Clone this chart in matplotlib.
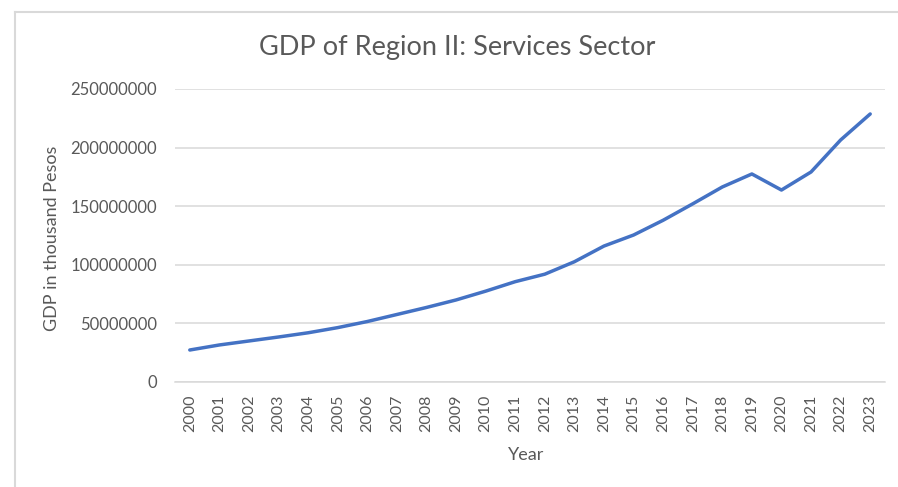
import matplotlib
matplotlib.use("Agg")
import matplotlib.pyplot as plt
from matplotlib.lines import Line2D

# Gross domestic product of the services sector, Region II (thousand pesos)
years = [str(y) for y in range(2000, 2024)]
gdp_services = [
    27.3e6, 31.6e6, 35.0e6, 38.4e6, 42.0e6, 46.4e6, 51.6e6, 57.6e6,
    63.6e6, 70.0e6, 77.5e6, 85.6e6, 92.0e6, 102.6e6, 116.0e6, 125.4e6,
    138.0e6, 152.0e6, 166.4e6, 177.5e6, 163.8e6, 179.2e6, 206.5e6, 228.7e6,
]
y_ticks = [0, 50000000, 100000000, 150000000, 200000000, 250000000]

title = "GDP of Region II: Services Sector"
x_title = "Year"
y_title = "GDP in thousand Pesos"

text_color = "#595959"
grid_color = "#d9d9d9"
line_color = "#4472c4"
font = ["Lato", "DejaVu Sans"]

W, H = 898, 487
fig = plt.figure(figsize=(W / 100, H / 100), dpi=100)
fig.patch.set_facecolor("white")

ax = fig.add_axes([175 / W, 1 - 382 / H, 710 / W, 293 / H])
x = list(range(len(years)))
ax.plot(x, gdp_services, color=line_color, linewidth=2.5,
        solid_capstyle="round", solid_joinstyle="round", zorder=3)

ax.set_xlim(-0.5, len(years) - 0.5)
ax.set_ylim(0, 250000000)
ax.set_yticks(y_ticks)
ax.set_yticklabels([str(v) for v in y_ticks], fontfamily=font,
                   fontsize=12, color=text_color)
ax.set_xticks(x)
ax.set_xticklabels(years, rotation=90, fontfamily=font, fontsize=11.5,
                   color=text_color, va="top", ha="center")
ax.tick_params(axis="both", length=0)
ax.tick_params(axis="y", pad=13)
ax.tick_params(axis="x", pad=9)

ax.grid(axis="y", color=grid_color, linewidth=1.1, zorder=0)
for side in ("top", "right", "left"):
    ax.spines[side].set_visible(False)
ax.spines["bottom"].set_color(grid_color)
ax.spines["bottom"].set_linewidth(1.1)

fig.text(457 / W, 1 - 47 / H, title, ha="center", va="center",
         fontfamily=font, fontsize=19.5, color=text_color)
fig.text(526 / W, 1 - 455 / H, x_title, ha="center", va="center",
         fontfamily=font, fontsize=13, color=text_color)
fig.text(52 / W, 1 - 238 / H, y_title, ha="center", va="center",
         rotation=90, fontfamily=font, fontsize=13, color=text_color)

# Outer chart border (left and top edges)
fig.add_artist(Line2D([15 / W, 15 / W], [0, 1 - 12 / H],
                      transform=fig.transFigure, color=grid_color, linewidth=1.5))
fig.add_artist(Line2D([15 / W, 1], [1 - 12 / H, 1 - 12 / H],
                      transform=fig.transFigure, color=grid_color, linewidth=1.5))

fig.savefig("out.png", dpi=100, facecolor="white")
